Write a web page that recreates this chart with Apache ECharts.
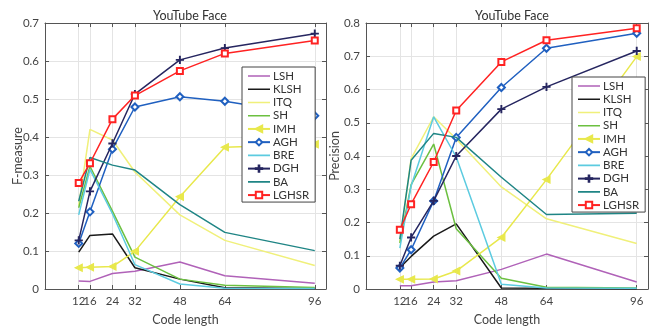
<!DOCTYPE html>
<html><head><meta charset="utf-8">
<script src="https://cdn.jsdelivr.net/npm/echarts@6/dist/echarts.min.js"></script>
<style>html,body{margin:0;padding:0;background:#fff}#c{width:652px;height:331px}</style>
</head><body><div id="c"></div>
<script>
const codeLengths = [12, 16, 24, 32, 48, 64, 96];
const methods = ['LSH','KLSH','ITQ','SH','IMH','AGH','BRE','DGH','BA','LGHSR'];
const titleText = 'YouTube Face';
const leftYName = 'F-measure';
const rightYName = 'Precision';
const xName = 'Code length';

// F-measure (left)
const fLSH   = [0.021, 0.020, 0.041, 0.047, 0.071, 0.035, 0.015];
const fKLSH  = [0.097, 0.141, 0.145, 0.056, 0.026, 0.003, 0.001];
const fITQ   = [0.220, 0.420, 0.392, 0.308, 0.195, 0.128, 0.062];
const fSH    = [0.214, 0.323, 0.205, 0.084, 0.026, 0.010, 0.004];
const fIMH   = [0.056, 0.057, 0.059, 0.099, 0.243, 0.373, 0.381];
const fAGH   = [0.120, 0.203, 0.368, 0.479, 0.506, 0.494, 0.456];
const fBRE   = [0.195, 0.315, 0.198, 0.064, 0.013, 0.002, 0.001];
const fDGH   = [0.128, 0.257, 0.383, 0.513, 0.603, 0.634, 0.672];
const fBA    = [0.231, 0.346, 0.326, 0.313, 0.222, 0.149, 0.101];
const fLGHSR = [0.279, 0.331, 0.447, 0.509, 0.574, 0.620, 0.654];

// Precision (right)
const pLSH   = [0.010, 0.010, 0.021, 0.025, 0.059, 0.105, 0.021];
const pKLSH  = [0.064, 0.098, 0.159, 0.196, 0.003, 0.002, 0.001];
const pITQ   = [0.142, 0.392, 0.518, 0.451, 0.307, 0.211, 0.137];
const pSH    = [0.138, 0.314, 0.436, 0.181, 0.032, 0.005, 0.003];
const pIMH   = [0.029, 0.029, 0.030, 0.054, 0.155, 0.329, 0.699];
const pAGH   = [0.063, 0.118, 0.265, 0.456, 0.606, 0.724, 0.769];
const pBRE   = [0.123, 0.310, 0.518, 0.397, 0.014, 0.003, 0.002];
const pDGH   = [0.070, 0.155, 0.265, 0.400, 0.541, 0.608, 0.716];
const pBA    = [0.150, 0.387, 0.468, 0.456, 0.336, 0.224, 0.228];
const pLGHSR = [0.178, 0.255, 0.382, 0.537, 0.683, 0.748, 0.784];

const fData = [fLSH,fKLSH,fITQ,fSH,fIMH,fAGH,fBRE,fDGH,fBA,fLGHSR];
const pData = [pLSH,pKLSH,pITQ,pSH,pIMH,pAGH,pBRE,pDGH,pBA,pLGHSR];

const plusPath = 'path://M-0.5,-5H0.5V5H-0.5Z M-5,-0.5H5V0.5H-5Z';
const lineIcon = 'path://M0,3.2H22V4.8H0Z M0,0H0.01V8H0Z';
const styles = {
  LSH:   {color:'#b062b8', symbol:'none'},
  KLSH:  {color:'#1a1a1a', symbol:'none'},
  ITQ:   {color:'#f0f07a', symbol:'none'},
  SH:    {color:'#6cc040', symbol:'none'},
  IMH:   {color:'#e8e84c', symbol:'triangle', size:7, rotate:90},
  AGH:   {color:'#2060c0', symbol:'emptyDiamond', size:7},
  BRE:   {color:'#5ccbe0', symbol:'none'},
  DGH:   {color:'#262660', symbol:plusPath, size:7},
  BA:    {color:'#1f8585', symbol:'none'},
  LGHSR: {color:'#ff2222', symbol:'emptyRect', size:6}
};

const font = 'Lato, Noto Sans, sans-serif';
const axisColor = '#555';
const labelColor = '#444';
const gridColor = '#e4e4e4';
const firstLabel = codeLengths.slice(0, 1);
const otherLabels = codeLengths.slice(1);

function xAxes(gridIndex) {
  const lbl = {fontFamily:font, fontSize:11.5, color:labelColor, margin:6, hideOverlap:false};
  return [{
    gridIndex, type:'value', min:0, max:100, position:'bottom',
    name: xName, nameLocation:'middle', nameGap:24, nameMoveOverlap:false,
    nameTextStyle:{fontFamily:font, fontSize:12.5, color:labelColor},
    axisLine:{show:true, onZero:false, lineStyle:{color:axisColor}},
    axisTick:{show:true, inside:true, length:4, customValues:codeLengths, lineStyle:{color:axisColor}},
    axisLabel:Object.assign({show:true, customValues:otherLabels}, lbl),
    splitLine:{show:true, lineStyle:{color:gridColor}}
  },{
    gridIndex, type:'value', min:0, max:100, position:'top',
    axisLine:{show:true, onZero:false, lineStyle:{color:axisColor}},
    axisTick:{show:true, inside:true, length:4, customValues:codeLengths, lineStyle:{color:axisColor}},
    axisLabel:{show:false},
    splitLine:{show:false}
  },{
    gridIndex, type:'value', min:0, max:100, position:'bottom',
    axisLine:{show:false, onZero:false},
    axisTick:{show:false, customValues:firstLabel},
    axisLabel:Object.assign({show:true, customValues:firstLabel}, lbl),
    splitLine:{show:false}
  }];
}
function yAxes(gridIndex, max, name, gap) {
  return [{
    gridIndex, type:'value', min:0, max, interval:0.1, position:'left',
    name, nameLocation:'middle', nameGap:gap, nameMoveOverlap:false,
    nameTextStyle:{fontFamily:font, fontSize:12.5, color:labelColor},
    axisLine:{show:true, onZero:false, lineStyle:{color:axisColor}},
    axisTick:{show:true, inside:true, length:4, lineStyle:{color:axisColor}},
    axisLabel:{fontFamily:font, fontSize:11.5, color:labelColor, margin:6},
    splitLine:{show:true, lineStyle:{color:gridColor}}
  },{
    gridIndex, type:'value', min:0, max, interval:0.1, position:'right',
    axisLine:{show:true, onZero:false, lineStyle:{color:axisColor}},
    axisTick:{show:true, inside:true, length:4, lineStyle:{color:axisColor}},
    axisLabel:{show:false},
    splitLine:{show:false}
  }];
}

function makeSeries(data, xi, yi) {
  return methods.map((m, i) => {
    const s = styles[m];
    return {
      name: m, type:'line', xAxisIndex:xi, yAxisIndex:yi,
      data: codeLengths.map((c, k) => [c, data[i][k]]),
      symbol: s.symbol, symbolSize: s.size || 0, symbolRotate: s.rotate || 0,
      showSymbol: s.symbol !== 'none',
      lineStyle:{color:s.color, width:1.5},
      itemStyle:{color:s.color, borderColor:s.color, borderWidth:1.2},
      emphasis:{disabled:true}, animation:false, z: 2 + i/10
    };
  });
}

function legend(left, top) {
  return {
    orient:'vertical', left, top,
    data: methods.map(m => styles[m].symbol === 'none'
      ? {name:m, icon:lineIcon, itemStyle:{color:styles[m].color, borderWidth:0, borderColor:'transparent'}}
      : {name:m}),
    backgroundColor:'#fff', borderColor:'#444', borderWidth:1, borderRadius:0,
    padding:[3, 6, 1, 5], itemWidth:22, itemHeight:8, itemGap:1.23,
    textStyle:{fontFamily:font, fontSize:11.5, color:'#333', lineHeight:11, padding:[0,0,0,-2]},
    selectedMode:false
  };
}

const chart = echarts.init(document.getElementById('c'), null, {renderer:'canvas'});
chart.setOption({
  animation:false,
  backgroundColor:'#fff',
  title:[
    {text:titleText, left:185, top:4, textAlign:'center', textStyle:{fontFamily:font, fontSize:12.5, fontWeight:'normal', color:'#333'}},
    {text:titleText, left:507, top:4, textAlign:'center', textStyle:{fontFamily:font, fontSize:12.5, fontWeight:'normal', color:'#333'}}
  ],
  grid:[
    {left:45, top:23, width:281, height:273},
    {left:366, top:23, width:282, height:272}
  ],
  xAxis:[...xAxes(0), ...xAxes(1)],
  yAxis:[...yAxes(0, 0.7, leftYName, 21), ...yAxes(1, 0.8, rightYName, 25)],
  legend:[legend(242, 67), legend(572, 77)],
  series:[...makeSeries(fData, 0, 0), ...makeSeries(pData, 3, 2)]
});
</script></body></html>
